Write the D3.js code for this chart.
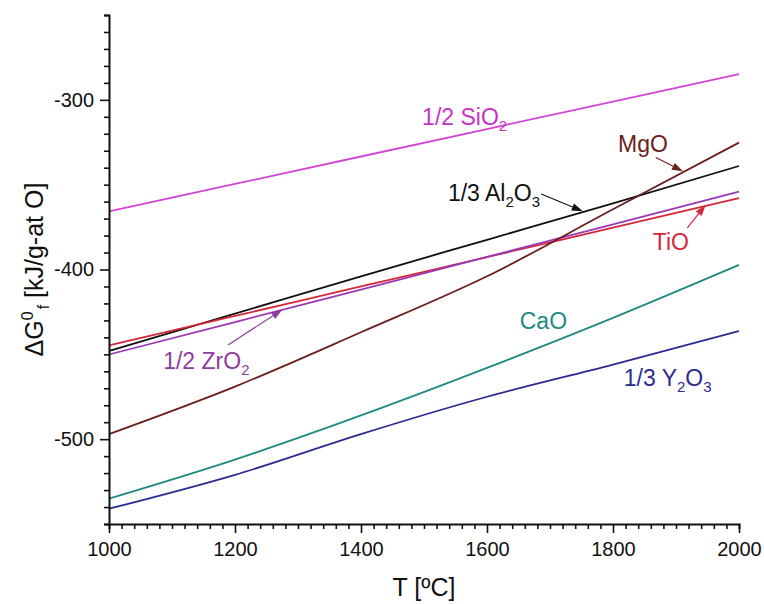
<!DOCTYPE html>
<html>
<head>
<meta charset="utf-8">
<script src="https://cdn.jsdelivr.net/npm/d3@7"></script>
<style>
  html, body { margin: 0; padding: 0; background: #fff; }
  svg { display: block; font-family: "Liberation Sans", Arial, sans-serif; }
</style>
</head>
<body>
<svg id="chart" width="764" height="604"></svg>
<script>
// Temperatures (°C) at which the free energies are tabulated
const temps = [1000, 1200, 1400, 1600, 1800, 2000];

// Standard free energy of formation per gram-atom of oxygen (kJ)
const sio2 = [-365.8, -349.6, -333.4, -317.2, -301.0, -284.8];
const mgo  = [-497.0, -469.0, -437.0, -404.0, -364.5, -325.2];
const al2o3 = [-448.0, -426.0, -404.0, -382.5, -361.0, -339.0];
const zro2 = [-450.1, -431.0, -411.8, -392.6, -373.4, -354.1];
const tio  = [-444.7, -427.4, -410.0, -392.7, -375.3, -358.0];
const cao  = [-535.0, -512.0, -486.0, -458.0, -428.5, -397.3];
const y2o3 = [-541.0, -521.0, -497.0, -475.0, -456.0, -436.2];

const xTicks = [1000, 1200, 1400, 1600, 1800, 2000];
const yTicks = [-300, -400, -500];

const series = [
  { name: "SiO2",  values: sio2,  color: "#d445d4" },
  { name: "Al2O3", values: al2o3, color: "#111111" },
  { name: "TiO",   values: tio,   color: "#d4283a" },
  { name: "ZrO2",  values: zro2,  color: "#9b38b8" },
  { name: "MgO",   values: mgo,   color: "#6e1d1d" },
  { name: "CaO",   values: cao,   color: "#1f8a80" },
  { name: "Y2O3",  values: y2o3,  color: "#2b2b92" }
];

const svg = d3.select("#chart");
const x = d3.scaleLinear().domain([1000, 2000]).range([109, 739]);
const y = d3.scaleLinear().domain([-550, -250]).range([524, 15]);

// Curves
const line = d3.line()
  .x((d, i) => x(temps[i]))
  .y(d => y(d))
  .curve(d3.curveMonotoneX);

svg.append("g").selectAll("path")
  .data(series)
  .join("path")
  .attr("d", s => line(s.values))
  .attr("fill", "none")
  .attr("stroke", s => s.color)
  .attr("stroke-width", 1.8);

// Axes: major ticks with labels, minor ticks without
const fmt = d => String(d);
const xAxis = svg.append("g").attr("transform", `translate(0,${y(-550)})`);
xAxis.call(d3.axisBottom(x).tickValues(d3.range(1000, 2001, 20)).tickSize(5).tickFormat(""));
xAxis.call(g => g.selectAll(".tick").filter(d => xTicks.includes(d)).select("line").attr("y2", 9));
xAxis.call(g => g.selectAll(".tick").filter(d => xTicks.includes(d)).select("text")
  .text(fmt).attr("y", 18).attr("font-size", 20).attr("fill", "#111"));

const yAxis = svg.append("g").attr("transform", `translate(${x(1000)},0)`);
yAxis.call(d3.axisLeft(y).tickValues(d3.range(-550, -249, 10)).tickSize(5).tickFormat(""));
yAxis.call(g => g.selectAll(".tick").filter(d => yTicks.includes(d)).select("line").attr("x2", -9));
yAxis.call(g => g.selectAll(".tick").filter(d => yTicks.includes(d)).select("text")
  .text(fmt).attr("x", -15).attr("font-size", 20).attr("fill", "#111"));

svg.selectAll(".domain").attr("stroke", "#111").attr("stroke-width", 2);
svg.selectAll(".tick line").attr("stroke", "#111").attr("stroke-width", 1.6);

// Axis titles
svg.append("text")
  .attr("x", (x(1000) + x(2000)) / 2).attr("y", 596)
  .attr("text-anchor", "middle").attr("font-size", 25).attr("fill", "#111")
  .text("T [ºC]");

const yt = svg.append("text")
  .attr("transform", `translate(43,${(y(-250) + y(-550)) / 2}) rotate(-90)`)
  .attr("text-anchor", "middle").attr("font-size", 25).attr("fill", "#111");
yt.append("tspan").text("ΔG");
yt.append("tspan").text("0").attr("font-size", 16).attr("dy", -10);
yt.append("tspan").text("f").attr("font-size", 16).attr("dy", 16).attr("dx", 2);
yt.append("tspan").text(" [kJ/g-at O]").attr("dy", -6);

// Chemical label: parts starting with "_" are drawn as subscripts
function chem(parts, tx, tv, color) {
  const t = svg.append("text")
    .attr("x", x(tx)).attr("y", y(tv))
    .attr("font-size", 23).attr("fill", color);
  let low = false;
  parts.forEach(p => {
    const sub = p.startsWith("_");
    const s = t.append("tspan").text(sub ? p.slice(1) : p);
    if (sub) {
      s.attr("font-size", 15);
      if (!low) { s.attr("dy", 6); low = true; }
    } else if (low) { s.attr("dy", -6); low = false; }
  });
  return t;
}

// Arrow from (t0,v0) to (t1,v1) in data units
function arrow(t0, v0, t1, v1, color) {
  const x0 = x(t0), y0 = y(v0), x1 = x(t1), y1 = y(v1);
  const a = Math.atan2(y1 - y0, x1 - x0);
  const L = 11, W = 3.8;
  const bx = x1 - L * Math.cos(a), by = y1 - L * Math.sin(a);
  svg.append("line").attr("x1", x0).attr("y1", y0).attr("x2", bx).attr("y2", by)
    .attr("stroke", color).attr("stroke-width", 1.2);
  svg.append("path")
    .attr("d", `M${x1},${y1}L${bx - W * Math.sin(a)},${by + W * Math.cos(a)}L${bx + W * Math.sin(a)},${by - W * Math.cos(a)}Z`)
    .attr("fill", color);
}

chem(["1/2 SiO", "_2"], 1497, -314.8, "#c832c8");
chem(["MgO"], 1808, -330.7, "#6e1d1d");
arrow(1868, -334, 1911, -342.1, "#6e1d1d");
chem(["1/3 Al", "_2", "O", "_3"], 1538, -359.6, "#111111");
arrow(1686, -355.5, 1752, -365.6, "#111111");
chem(["TiO"], 1863, -388.5, "#d4283a");
arrow(1918, -375.5, 1947, -362.0, "#d4283a");
chem(["1/2 ZrO", "_2"], 1086, -458.6, "#8e3c9e");
arrow(1189, -444.5, 1275, -423.7, "#8e3c9e");
chem(["CaO"], 1652, -435.3, "#1f8a80");
chem(["1/3 Y", "_2", "O", "_3"], 1817, -468.6, "#2b2b92");
</script>
</body>
</html>
